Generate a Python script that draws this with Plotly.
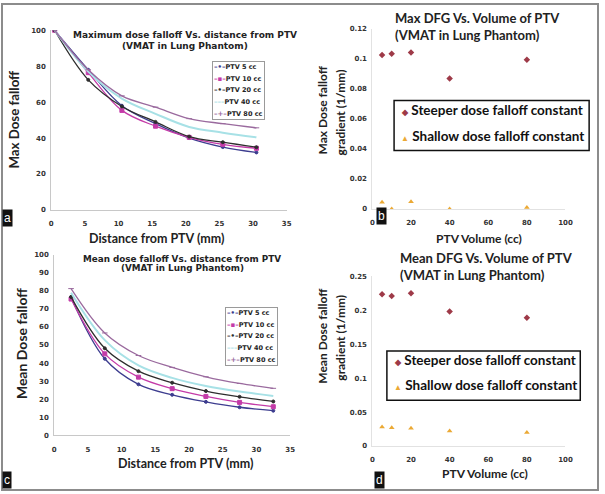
import plotly.graph_objects as go

W, H = 605, 494

# ---------------- data ----------------
series_names = ["PTV 5 cc", "PTV 10 cc", "PTV 20 cc", "PTV 40 cc", "PTV 80 cc"]

max_dist = [0.5, 5.5, 10.5, 15.5, 20.5, 25.5, 30.5]
max_ptv5 = [100, 78, 58, 48, 40, 35, 32]
max_ptv10 = [100, 76.4, 55.4, 46.6, 40.4, 36.5, 34.3]
max_ptv20 = [100, 72.4, 57.6, 49, 40.8, 37.7, 34.9]
max_ptv40 = [100, 77, 62, 53.5, 46.2, 43, 40.4]
max_ptv80 = [100, 78, 63.5, 57.2, 50.8, 48, 45.7]

mean_dist = [2.5, 7.5, 12.5, 17.5, 22.5, 27.5, 32.5]
mean_ptv5 = [76.4, 42.4, 28.2, 22.4, 18.5, 15.5, 13.6]
mean_ptv10 = [75.5, 45.1, 32.2, 25.8, 21.5, 18.2, 15.8]
mean_ptv20 = [76.7, 48.2, 35.5, 29.1, 24.5, 21.3, 18.7]
mean_ptv40 = [79, 52.7, 38.7, 31.8, 27.3, 24.2, 21.8]
mean_ptv80 = [81.3, 56.7, 44.2, 37.6, 32.4, 28.7, 26]

volumes = [5, 10, 20, 40, 80]
max_steep = [0.1025, 0.1032, 0.1041, 0.0868, 0.0993]
max_shallow = [0.0044, 0.0, 0.0048, 0.0, 0.001]
mean_steep = [0.2235, 0.221, 0.2249, 0.1979, 0.1887]
mean_shallow = [0.028, 0.027, 0.026, 0.022, 0.0198]

fit_names = ["Steeper dose falloff constant", "Shallow dose falloff constant"]

# ---------------- styles ----------------
VER = "DejaVu Sans"
CAL = "Lato"
colors = ["#3D3D8F", "#C43BA8", "#2E2E2E", "#A7E1E6", "#9A6A9E"]
symbols = ["circle", "square", "circle", None, "line-ew"]
msizes = [3, 4, 3, 0, 4]
lwidths = [1.3, 1.3, 1.3, 2.0, 1.3]
leg_marks = ["–•–", "–▪–", "–•–", "–––", "–+–"]
steep_color = "#9E3A48"
shallow_color = "#EBA934"


def px_x(v):
    return v / W


def px_y(v):
    return 1 - v / H


fig = go.Figure()

max_sets = [max_ptv5, max_ptv10, max_ptv20, max_ptv40, max_ptv80]
mean_sets = [mean_ptv5, mean_ptv10, mean_ptv20, mean_ptv40, mean_ptv80]

for xs, sets, xa, ya in [(max_dist, max_sets, "x", "y"), (mean_dist, mean_sets, "x3", "y3")]:
    for name, ys, c, s, ms, lw in zip(series_names, sets, colors, symbols, msizes, lwidths):
        mode = "lines+markers" if s else "lines"
        marker = dict(color=c, size=ms, symbol=s, line=dict(color=c, width=1)) if s else None
        fig.add_trace(go.Scatter(
            x=xs, y=ys, name=name, mode=mode, xaxis=xa, yaxis=ya,
            line=dict(color=c, width=lw, shape="spline", smoothing=1.0),
            marker=marker, showlegend=False, hoverinfo="skip"))

for steep, shallow, xa, ya in [(max_steep, max_shallow, "x2", "y2"),
                               (mean_steep, mean_shallow, "x4", "y4")]:
    fig.add_trace(go.Scatter(
        x=volumes, y=steep, name=fit_names[0], mode="markers", xaxis=xa, yaxis=ya,
        marker=dict(symbol="diamond", size=5, color=steep_color),
        showlegend=False, hoverinfo="skip"))
    fig.add_trace(go.Scatter(
        x=volumes, y=shallow, name=fit_names[1], mode="markers", xaxis=xa, yaxis=ya,
        marker=dict(symbol="triangle-up", size=5, color=shallow_color),
        showlegend=False, hoverinfo="skip"))

tick_font = dict(family=VER, size=7, color="#333333", weight="bold")


def axis(dom, rng, dtick, anchor, linecolor, standoff):
    return dict(domain=dom, range=rng, dtick=dtick, anchor=anchor, showgrid=False,
                zeroline=False, showline=True, linecolor=linecolor, linewidth=1,
                ticks="", tickfont=tick_font, ticklabelstandoff=standoff, fixedrange=True)


layout = dict(
    width=W, height=H, margin=dict(l=0, r=0, t=0, b=0),
    paper_bgcolor="white", plot_bgcolor="white", showlegend=False,
    xaxis=axis([px_x(50), px_x(289)], [0, 35], 5, "y", "#C8C8C8", 7),
    yaxis=axis([px_y(209.3), px_y(26.7)], [0, 100], 20, "x", "#C8C8C8", 3),
    xaxis2=axis([px_x(376), px_x(572)], [0, 100], 20, "y2", "#E2E2E2", 7),
    yaxis2=axis([px_y(208.3), px_y(25)], [0, 0.12], 0.02, "x2", "#E2E2E2", 3),
    xaxis3=axis([px_x(53), px_x(292.5)], [0, 35], 5, "y3", "#C8C8C8", 7),
    yaxis3=axis([px_y(438.3), px_y(255)], [0, 100], 10, "x3", "#C8C8C8", 3),
    xaxis4=axis([px_x(376), px_x(572)], [0, 100], 20, "y4", "#E2E2E2", 7),
    yaxis4=axis([px_y(449.3), px_y(276.7)], [0, 0.25], 0.05, "x4", "#E2E2E2", 3),
)
fig.update_layout(**layout)

ann = []
shapes = []


def text(t, x, y, size, family, rot=0, xanchor="center", bold=True, color="#222222"):
    ann.append(dict(text=t, x=px_x(x), y=px_y(y), xref="paper", yref="paper",
                    showarrow=False, xanchor=xanchor, yanchor="middle", textangle=rot,
                    font=dict(family=family, size=size, color=color,
                              weight="bold" if bold else "normal")))


# panel a
text("Maximum dose falloff Vs. distance from PTV", 186, 32, 9, VER)
text("(VMAT in Lung Phantom)", 186, 43, 9, VER)
text("Max Dose falloff", 12.7, 117, 13.3, CAL, rot=-90)
text("Distance from PTV (mm)", 157, 238, 12.5, CAL)
# panel c
text("Mean dose falloff Vs. distance from PTV", 183, 259.5, 8.8, VER)
text("(VMAT in Lung Phantom)", 183, 268, 8.8, VER)
text("Mean Dose falloff", 20, 345, 14, CAL, rot=-90)
text("Distance from PTV (mm)", 186, 467, 12.5, CAL)
# panel b
text("Max DFG Vs. Volume of PTV", 397, 14, 13, CAL, xanchor="left")
text("(VMAT in Lung Phantom)", 397, 31.7, 13, CAL, xanchor="left")
text("Max Dose falloff", 325, 108, 12, CAL, rot=-90)
text("gradient (1/mm)", 343.3, 110, 12, CAL, rot=-90)
text("PTV Volume (cc)", 484.6, 238, 12, CAL)
# panel d
text("Mean DFG Vs. Volume of PTV", 401.7, 258.3, 13, CAL, xanchor="left")
text("(VMAT in Lung Phantom)", 401.7, 275, 13, CAL, xanchor="left")
text("Mean Dose falloff", 325, 337, 12, CAL, rot=-90)
text("gradient (1/mm)", 343.3, 339, 12, CAL, rot=-90)
text("PTV Volume (cc)", 490, 477.3, 12, CAL)


# compact text legends for line panels
def line_legend(xr, yt):
    lines = []
    for name, c, m in zip(series_names, colors, leg_marks):
        lines.append(f"<span style='color:{c};font-size:7px'>{m}</span>"
                     f"<span style='font-size:6.5px'>{name}</span>")
    ann.append(dict(text="<br>".join(lines), x=px_x(xr), y=px_y(yt), xref="paper", yref="paper",
                    showarrow=False, xanchor="right", yanchor="top", align="left",
                    bgcolor="white", bordercolor="#9A9A9A", borderwidth=1, borderpad=1,
                    font=dict(family=VER, size=9, color="#222222", weight="bold")))


line_legend(267, 58)
line_legend(280, 308)


# legends for scatter panels
def fit_legend(x0, x1, y0, y1, y_rows, xl):
    shapes.append(dict(type="rect", xref="paper", yref="paper", x0=px_x(x0), x1=px_x(x1),
                       y0=px_y(y1), y1=px_y(y0), line=dict(color="#111111", width=1.5),
                       fillcolor="white", layer="above"))
    for name, col, sym, yr in zip(fit_names, [steep_color, shallow_color], ["◆", "▲"], y_rows):
        t = f"<span style='color:{col};font-size:8px'>{sym}</span> {name}"
        ann.append(dict(text=t, x=px_x(xl), y=px_y(yr), xref="paper", yref="paper",
                        showarrow=False, xanchor="left", yanchor="middle", align="left",
                        font=dict(family=CAL, size=13.5, color="#111111", weight="bold")))


fit_legend(398, 596, 98, 149, [108, 134], 403)
fit_legend(390.7, 587, 352.7, 402.7, [362, 387], 396)

# panel letters
for letter, x, y in [("a", 0, 227), ("b", 380, 225), ("c", 0, 493), ("d", 378, 493)]:
    ann.append(dict(text=letter, x=px_x(x), y=px_y(y), xref="paper", yref="paper",
                    showarrow=False, xanchor="left", yanchor="bottom", bgcolor="#111111",
                    borderpad=1, font=dict(family="Liberation Sans", size=12, color="white")))

shapes.append(dict(type="rect", xref="paper", yref="paper", x0=0, y0=0, x1=1, y1=1,
                   line=dict(color="#8C8C8C", width=2)))
fig.update_layout(annotations=ann, shapes=shapes)

fig.write_html("out.html", config={"displayModeBar": False},
               post_script="document.body.style.margin='0';")
